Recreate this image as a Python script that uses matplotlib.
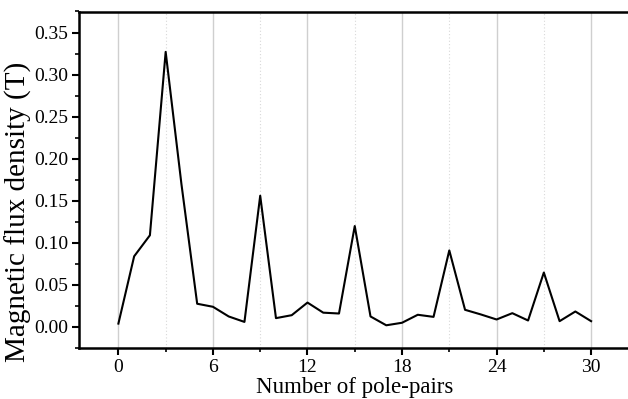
import matplotlib
matplotlib.use("Agg")
import matplotlib.pyplot as plt
from matplotlib.ticker import MultipleLocator

pole_pairs = list(range(0, 31))
flux_density = [0.004, 0.084, 0.109, 0.327, 0.170, 0.0276, 0.024, 0.0125, 0.006, 0.156,
                0.0105, 0.014, 0.029, 0.017, 0.016, 0.120, 0.0125, 0.002, 0.005, 0.0145,
                0.012, 0.091, 0.0204, 0.0149, 0.0089, 0.0164, 0.0077, 0.0647, 0.0069, 0.0184,
                0.0069]

plt.rcParams['font.family'] = ['Liberation Serif', 'DejaVu Serif']
plt.rcParams['mathtext.fontset'] = 'stix'

fig = plt.figure(figsize=(6.28, 3.99), dpi=100)
ax = fig.add_axes([79/628, 51/399, 551.5/628, (348-11.5)/399])

ax.plot(pole_pairs, flux_density, color='black', lw=1.5, zorder=3)

ax.set_xlim(-2.5, 32.5)
ax.set_ylim(-0.025, 0.375)
ax.xaxis.set_major_locator(MultipleLocator(6))
ax.xaxis.set_minor_locator(MultipleLocator(3))
ax.yaxis.set_major_locator(MultipleLocator(0.05))
ax.yaxis.set_minor_locator(MultipleLocator(0.025))
ax.yaxis.set_major_formatter(plt.FuncFormatter(lambda v, p: f"{v:.2f}"))

ax.grid(axis='x', which='major', color='#cfcfcf', lw=1.0, ls='-', zorder=0)
ax.grid(axis='x', which='minor', color='#d8d8d8', lw=0.8, ls=(0, (1, 2)), zorder=0)

for s in ['left', 'bottom', 'top']:
    ax.spines[s].set_linewidth(1.8)
ax.spines['right'].set_visible(False)

ax.tick_params(which='major', direction='out', length=5, width=1.5, labelsize=14, pad=3)
ax.tick_params(which='minor', direction='out', length=3, width=1.2)
ax.tick_params(top=False, right=False, which='both')

ax.set_xlabel('Number of pole-pairs', fontsize=16.5, labelpad=1)
ax.set_ylabel('Magnetic flux density (T)', fontsize=21)
ax.yaxis.set_label_coords(-0.085, 0.405)

fig.savefig('out.png', dpi=100)
